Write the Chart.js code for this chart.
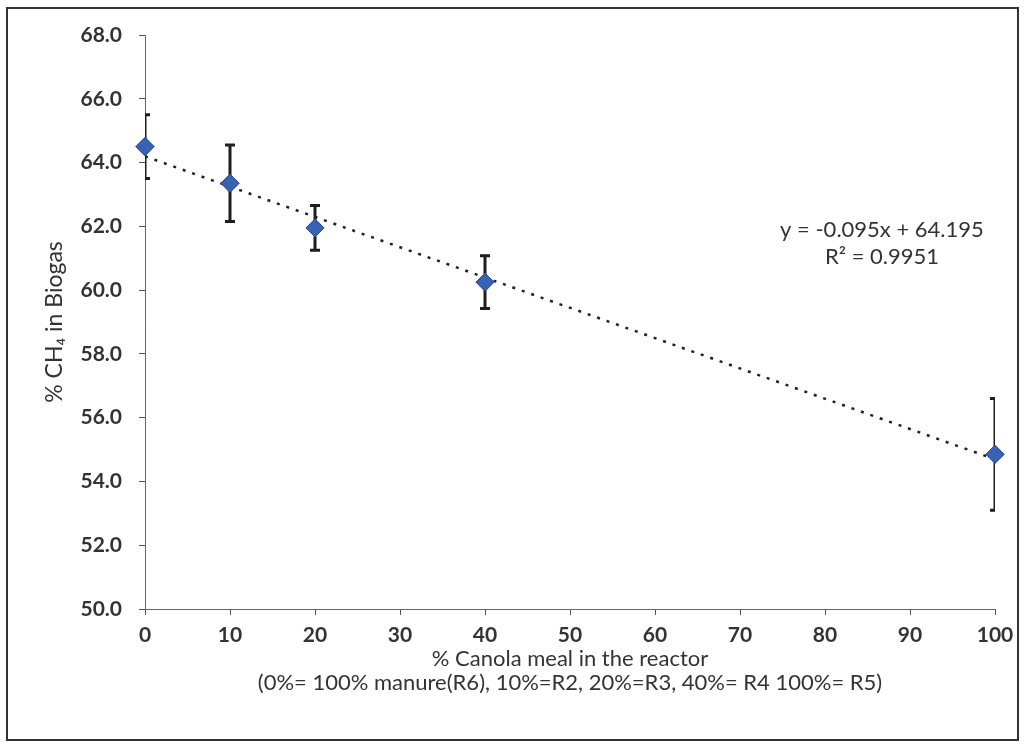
<!DOCTYPE html>
<html>

<head>
    <title>CH4 in biogas vs canola meal</title>
    <meta charset="utf-8" />
    <style>
        body { margin: 0; background: #fff; }
        #wrap { position: relative; width: 1031px; height: 744px; }
        #frame { position: absolute; left: 6px; top: 7px; width: 1013px; height: 734px; border: 2px solid #333; box-sizing: border-box; pointer-events: none; }
    </style>
</head>

<body>
    <div id="wrap">
        <canvas id="myChart" width="1031" height="744"></canvas>
        <div id="frame"></div>
    </div>

    <script src="https://cdn.jsdelivr.net/npm/chart.js"></script>
    <script type="text/javascript">
        // data
        const canolaPct = [0, 10, 20, 40, 100];
        const ch4Pct = [64.5, 63.35, 61.95, 60.25, 54.85];
        const ch4Err = [1.0, 1.2, 0.7, 0.83, 1.75];

        // trendline printed on the chart
        const trendSlope = -0.095;
        const trendIntercept = 64.195;
        const trendLabel = ['y = -0.095x + 64.195', 'R\u00b2 = 0.9951'];

        const xTicks = [0, 10, 20, 30, 40, 50, 60, 70, 80, 90, 100];
        const yTicks = [50, 52, 54, 56, 58, 60, 62, 64, 66, 68];

        const points = canolaPct.map((x, i) => ({ x: x, y: ch4Pct[i] }));
        const trendPoints = [0, 100].map((x) => ({ x: x, y: trendIntercept + trendSlope * x }));

        const errorBars = {
            id: 'errorBars',
            afterDatasetsDraw(chart) {
                const { ctx, chartArea, scales: { x, y } } = chart;
                ctx.save();
                ctx.beginPath();
                ctx.rect(chartArea.left, chartArea.top - 20, chartArea.width, chartArea.height + 20);
                ctx.clip();
                ctx.strokeStyle = '#1e1e1e';
                ctx.lineWidth = 3;
                canolaPct.forEach((v, i) => {
                    const px = x.getPixelForValue(v);
                    const top = y.getPixelForValue(ch4Pct[i] + ch4Err[i]);
                    const bot = y.getPixelForValue(ch4Pct[i] - ch4Err[i]);
                    ctx.beginPath();
                    ctx.moveTo(px, top);
                    ctx.lineTo(px, bot);
                    ctx.moveTo(px - 5, top);
                    ctx.lineTo(px + 5, top);
                    ctx.moveTo(px - 5, bot);
                    ctx.lineTo(px + 5, bot);
                    ctx.stroke();
                });
                ctx.restore();
                // markers on top of the bars, not clipped
                chart.getDatasetMeta(1).data.forEach((pt) => pt.draw(ctx));
            }
        };

        const trendText = {
            id: 'trendText',
            afterDraw(chart) {
                const { ctx, scales: { x, y } } = chart;
                ctx.save();
                ctx.fillStyle = '#333';
                ctx.font = '22px Lato';
                ctx.textAlign = 'center';
                ctx.textBaseline = 'middle';
                const cx = x.getPixelForValue(86.7);
                ctx.fillText(trendLabel[0], cx, y.getPixelForValue(61.9));
                ctx.fillText(trendLabel[1], cx, y.getPixelForValue(61.05));
                ctx.restore();
            }
        };

        new Chart(document.getElementById('myChart'), {
            type: 'scatter',
            data: {
                datasets: [{
                    type: 'line',
                    data: trendPoints,
                    borderColor: '#222',
                    borderWidth: 2.5,
                    borderDash: [3, 7],
                    pointRadius: 0,
                    fill: false
                }, {
                    data: points,
                    clip: false,
                    pointStyle: 'rectRot',
                    pointRadius: 9,
                    backgroundColor: '#3a62b4',
                    borderColor: '#2c4f9c',
                    borderWidth: 1
                }]
            },
            options: {
                responsive: false,
                animation: false,
                layout: { padding: { top: 35, right: 36, left: 0, bottom: 0 } },
                plugins: {
                    legend: { display: false },
                    tooltip: { enabled: false }
                },
                scales: {
                    x: {
                        type: 'linear',
                        min: 0,
                        max: 100,
                        afterBuildTicks: (axis) => { axis.ticks = xTicks.map((v) => ({ value: v })); },
                        afterFit: (axis) => { axis.height = 135; },
                        grid: { drawOnChartArea: false, tickLength: 6, color: '#555' },
                        border: { color: '#666', width: 1, dash: [2, 2] },
                        ticks: { color: '#333', padding: 8, font: { family: 'Lato', size: 21, weight: 'bold' } },
                        title: {
                            display: true,
                            text: ['% Canola meal in the reactor', '(0%= 100% manure(R6), 10%=R2, 20%=R3, 40%= R4 100%= R5)'],
                            color: '#333',
                            font: { family: 'Lato', size: 22, lineHeight: 1.08 },
                            padding: { top: 0, bottom: 49 }
                        }
                    },
                    y: {
                        min: 50,
                        max: 68,
                        afterBuildTicks: (axis) => { axis.ticks = yTicks.map((v) => ({ value: v })); },
                        afterFit: (axis) => { axis.width = 145; },
                        grid: { drawOnChartArea: false, tickLength: 6, color: '#555' },
                        border: { color: '#666', width: 1, dash: [2, 2] },
                        ticks: {
                            color: '#333',
                            padding: 17,
                            font: { family: 'Lato', size: 21, weight: 'bold' },
                            callback: (v) => v.toFixed(1)
                        },
                        title: {
                            display: true,
                            text: '% CH\u2084 in Biogas',
                            color: '#333',
                            font: { family: 'Lato', size: 23 },
                            padding: { top: 41, bottom: 0 }
                        }
                    }
                }
            },
            plugins: [errorBars, trendText]
        });
    </script>
</body>

</html>
